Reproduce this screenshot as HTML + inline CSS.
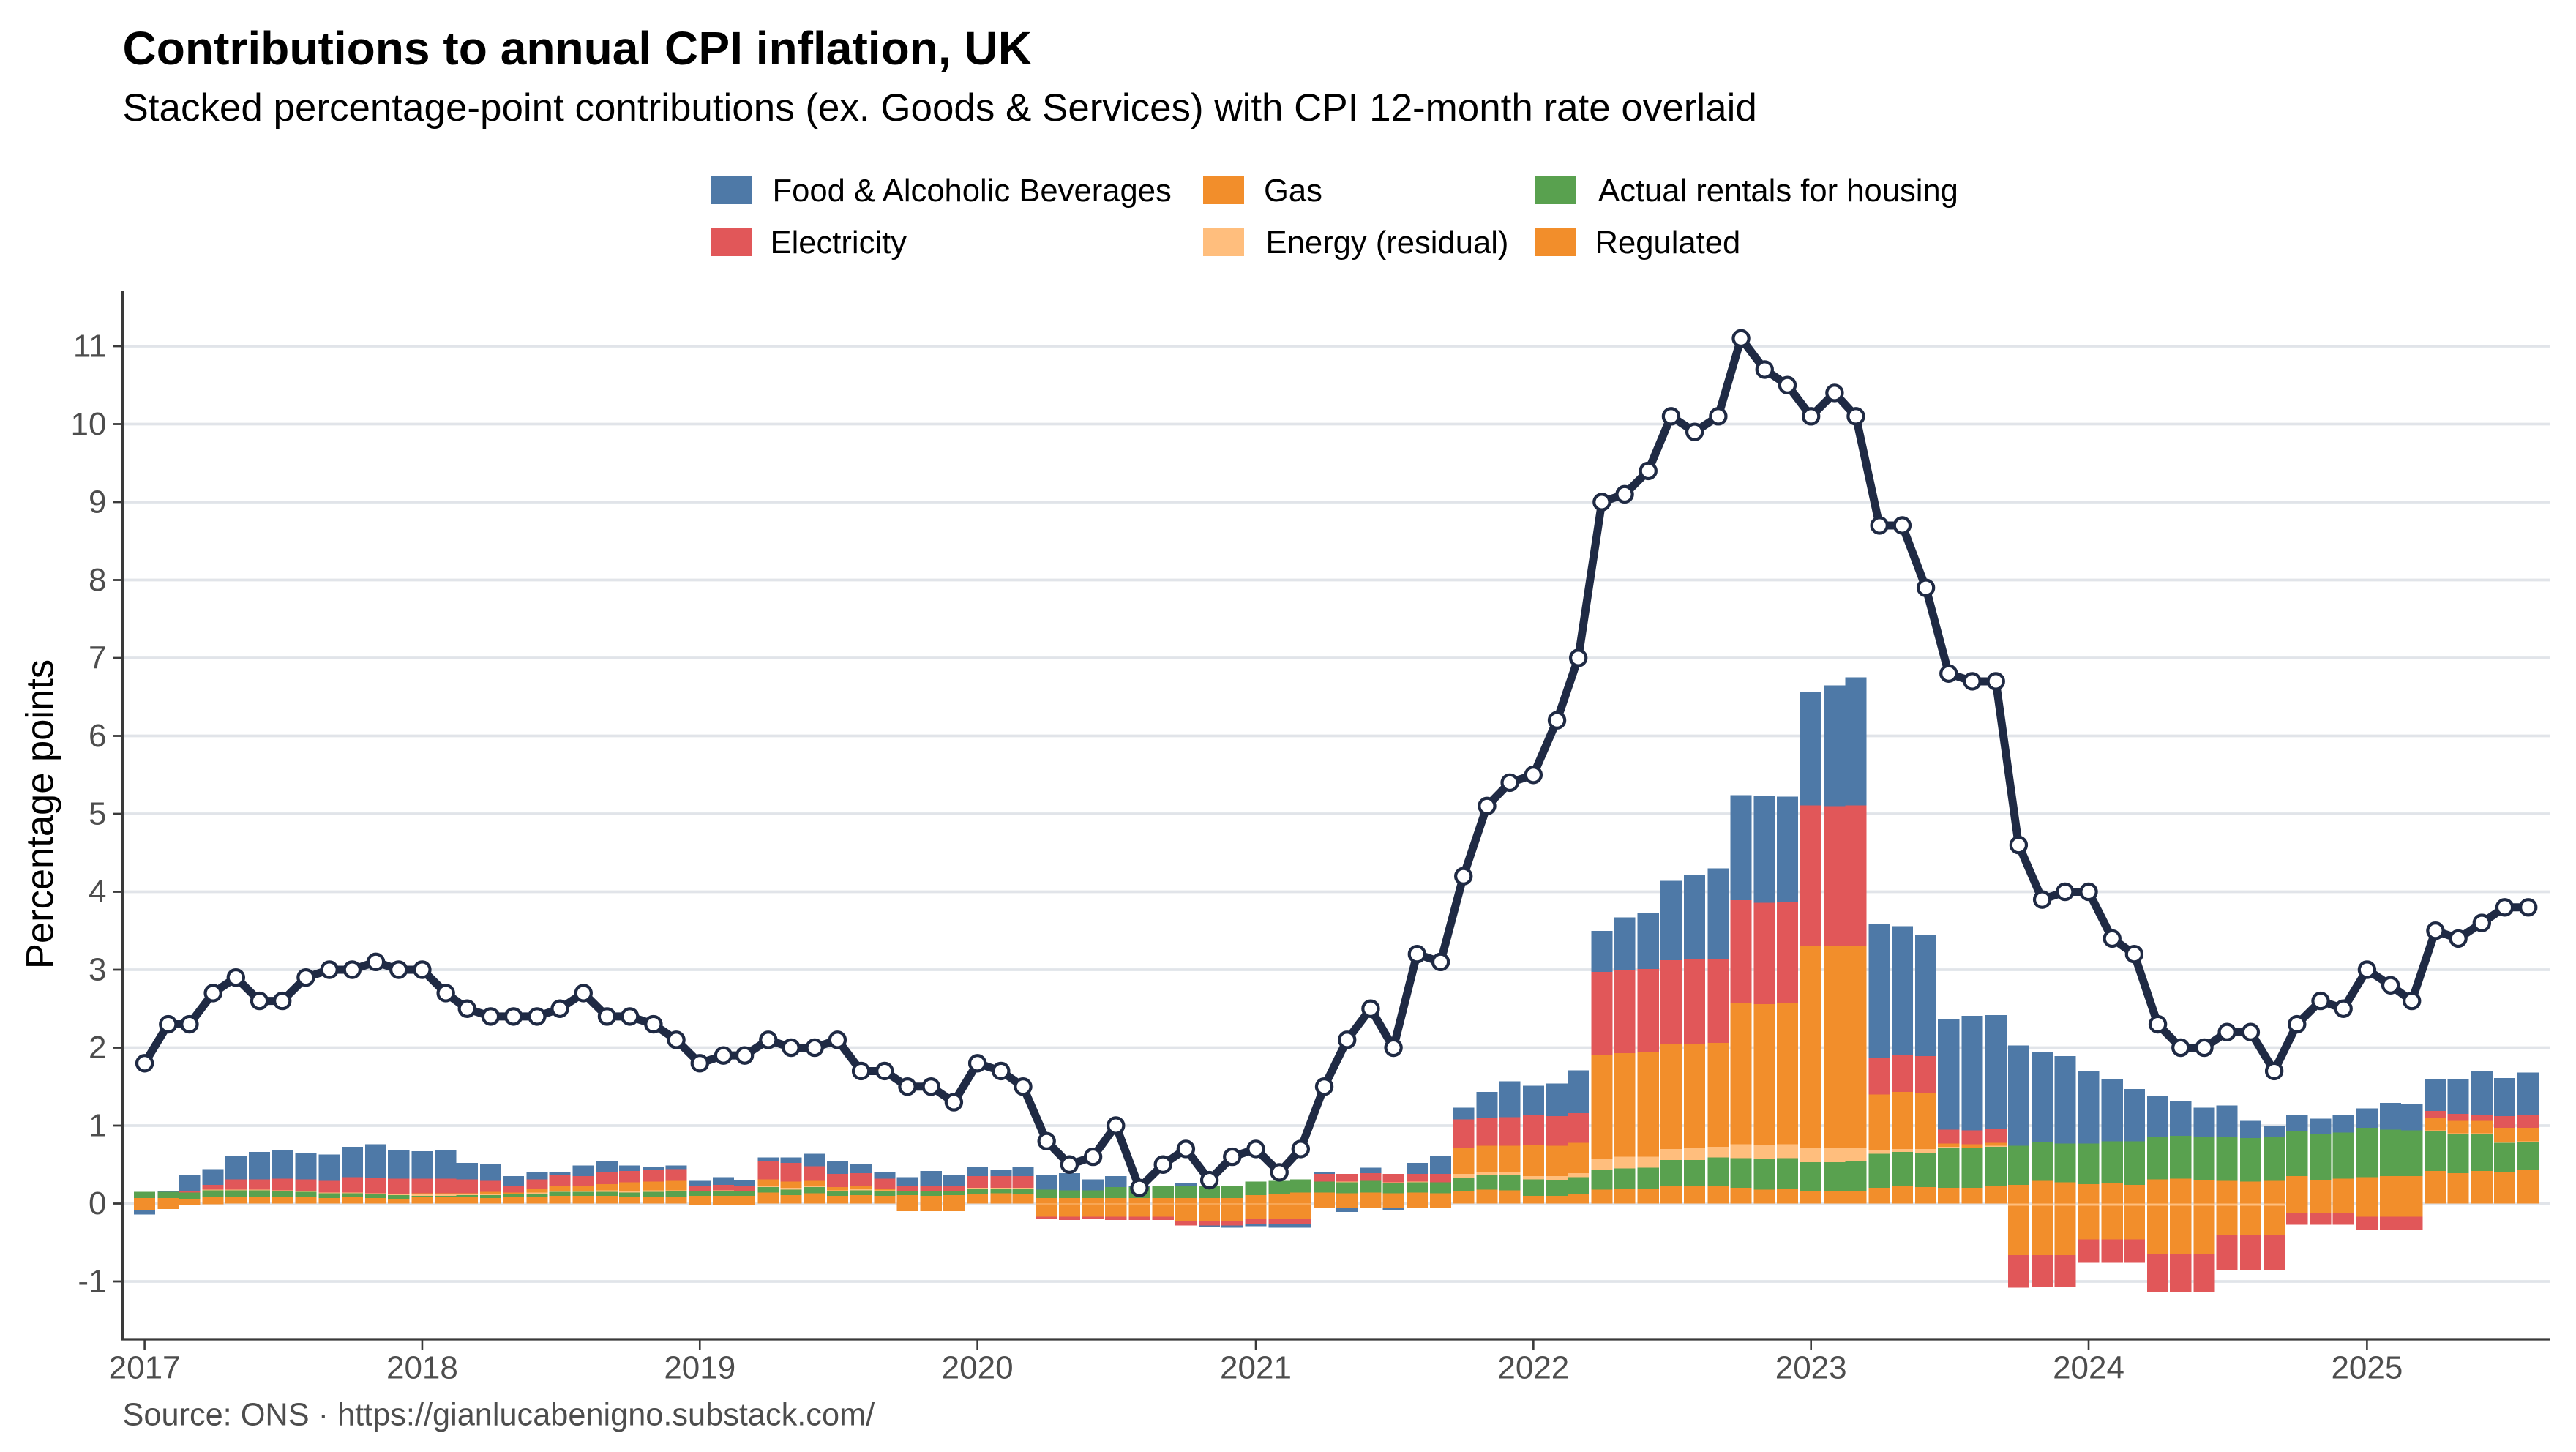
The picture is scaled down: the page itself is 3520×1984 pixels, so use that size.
<!DOCTYPE html>
<html lang="en">
<head>
<meta charset="utf-8">
<title>Contributions to annual CPI inflation, UK</title>
<style>
html,body{margin:0;padding:0;background:#fff;width:3520px;height:1984px;overflow:hidden}
svg{display:block}
text{font-family:"Liberation Sans",Arial,sans-serif}
.leg{font-size:43.6px;fill:#000}
</style>
</head>
<body>
<svg id="chart" xmlns="http://www.w3.org/2000/svg" width="3520" height="1984" viewBox="0 0 3520 1984">
  <rect x="0" y="0" width="3520" height="1984" fill="#ffffff"/>
  <text x="167.5" y="88" font-size="64.1" font-weight="700" fill="#000">Contributions to annual CPI inflation, UK</text>
  <text x="167.5" y="165" font-size="52.95" fill="#000">Stacked percentage-point contributions (ex. Goods &amp; Services) with CPI 12-month rate overlaid</text>

  <g>
    <g>
      <rect x="971" y="241" width="56" height="38" fill="#4E79A7"/>
      <text class="leg" x="1055.5" y="275">Food &amp; Alcoholic Beverages</text>
    </g>
    <g>
      <rect x="971" y="312" width="56" height="38" fill="#E15759"/>
      <text class="leg" x="1052.5" y="346">Electricity</text>
    </g>
    <g>
      <rect x="1644" y="241" width="56" height="38" fill="#F28E2B"/>
      <text class="leg" x="1727" y="275">Gas</text>
    </g>
    <g>
      <rect x="1644" y="312" width="56" height="38" fill="#FFBE7D"/>
      <text class="leg" x="1729.5" y="346">Energy (residual)</text>
    </g>
    <g>
      <rect x="2098" y="241" width="56" height="38" fill="#59A14F"/>
      <text class="leg" x="2184" y="275">Actual rentals for housing</text>
    </g>
    <g>
      <rect x="2098" y="312" width="56" height="38" fill="#F28E2B"/>
      <text class="leg" x="2179.5" y="346">Regulated</text>
    </g>
  </g>

  <text transform="translate(72.3,1112.5) rotate(-90)" text-anchor="middle" font-size="52.5" fill="#000">Percentage points</text>
  <text x="167.5" y="1947.5" font-size="43.3" fill="#4d4d4d">Source: ONS · https://gianlucabenigno.substack.com/</text>

  <g id="grid"></g>
  <g id="bars"></g>
  <g id="axes"></g>
  <g id="line"></g>
</svg>
<script>
const months = [
"2017-01","2017-02","2017-03","2017-04","2017-05","2017-06","2017-07","2017-08","2017-09","2017-10","2017-11","2017-12",
"2018-01","2018-02","2018-03","2018-04","2018-05","2018-06","2018-07","2018-08","2018-09","2018-10","2018-11","2018-12",
"2019-01","2019-02","2019-03","2019-04","2019-05","2019-06","2019-07","2019-08","2019-09","2019-10","2019-11","2019-12",
"2020-01","2020-02","2020-03","2020-04","2020-05","2020-06","2020-07","2020-08","2020-09","2020-10","2020-11","2020-12",
"2021-01","2021-02","2021-03","2021-04","2021-05","2021-06","2021-07","2021-08","2021-09","2021-10","2021-11","2021-12",
"2022-01","2022-02","2022-03","2022-04","2022-05","2022-06","2022-07","2022-08","2022-09","2022-10","2022-11","2022-12",
"2023-01","2023-02","2023-03","2023-04","2023-05","2023-06","2023-07","2023-08","2023-09","2023-10","2023-11","2023-12",
"2024-01","2024-02","2024-03","2024-04","2024-05","2024-06","2024-07","2024-08","2024-09","2024-10","2024-11","2024-12",
"2025-01","2025-02","2025-03","2025-04","2025-05","2025-06","2025-07","2025-08"];

const cpiRate = [
1.8,2.3,2.3,2.7,2.9,2.6,2.6,2.9,3.0,3.0,3.1,3.0,
3.0,2.7,2.5,2.4,2.4,2.4,2.5,2.7,2.4,2.4,2.3,2.1,
1.8,1.9,1.9,2.1,2.0,2.0,2.1,1.7,1.7,1.5,1.5,1.3,
1.8,1.7,1.5,0.8,0.5,0.6,1.0,0.2,0.5,0.7,0.3,0.6,
0.7,0.4,0.7,1.5,2.1,2.5,2.0,3.2,3.1,4.2,5.1,5.4,
5.5,6.2,7.0,9.0,9.1,9.4,10.1,9.9,10.1,11.1,10.7,10.5,
10.1,10.4,10.1,8.7,8.7,7.9,6.8,6.7,6.7,4.6,3.9,4.0,
4.0,3.4,3.2,2.3,2.0,2.0,2.2,2.2,1.7,2.3,2.6,2.5,
3.0,2.8,2.6,3.5,3.4,3.6,3.8,3.8];

const regulated = [
.07,.07,.06,.09,.09,.09,.08,.08,.07,.08,.07,.06,
.08,.08,.08,.07,.08,.09,.10,.10,.10,.09,.09,.09,
.10,.10,.10,.14,.11,.13,.10,.11,.10,.11,.10,.11,
.12,.13,.12,.07,.07,.07,.07,.07,.07,.07,.07,.07,
.11,.12,.14,.14,.13,.14,.13,.14,.13,.16,.18,.17,
.10,.10,.12,.18,.19,.19,.23,.22,.22,.20,.18,.19,
.16,.16,.16,.20,.22,.21,.20,.20,.22,.24,.29,.27,
.25,.26,.24,.31,.32,.30,.29,.28,.29,.35,.30,.32,
.34,.35,.35,.42,.39,.42,.41,.43];

const rentals = [
.08,.08,.08,.08,.08,.08,.08,.07,.06,.05,.05,.05,
.02,.02,.03,.04,.04,.03,.05,.05,.05,.05,.06,.07,
.06,.06,.06,.07,.07,.08,.06,.06,.06,.05,.06,.05,
.07,.06,.07,.11,.10,.10,.14,.14,.15,.15,.15,.15,
.17,.17,.17,.14,.14,.15,.13,.13,.14,.17,.18,.19,
.21,.20,.22,.25,.26,.27,.33,.34,.37,.38,.39,.39,
.37,.37,.38,.44,.44,.44,.52,.51,.51,.50,.50,.50,
.52,.54,.56,.54,.55,.56,.57,.56,.56,.58,.59,.59,
.63,.60,.59,.51,.50,.47,.37,.36];

const energyResidual = [
0,0,0,.01,.01,.01,.01,.01,.01,.01,.01,.01,
.02,.02,.01,.01,0,.02,.01,.01,.02,.02,.02,.01,
0,.01,0,.02,.02,.02,.01,.02,.01,0,0,0,
.01,.01,.01,-.01,-.01,-.01,-.01,-.01,-.01,-.01,-.01,-.01,
-.01,-.01,-.01,0,.01,0,.01,.01,0,.05,.05,.05,
.04,.05,.05,.14,.15,.14,.14,.15,.14,.18,.18,.18,
.18,.18,.17,.04,.04,.05,.01,.01,.01,-.03,-.03,-.03,
-.03,-.03,-.03,-.03,-.03,-.03,-.03,-.03,-.03,0,0,0,
0,0,0,.01,.01,.01,.01,.01];

const gas = [
-.08,-.07,-.02,-.01,0,0,0,0,0,0,0,0,
.01,.01,.01,.03,.02,.05,.07,.07,.08,.11,.11,.12,
-.02,-.02,-.02,.08,.08,.06,.04,.04,.02,-.10,-.10,-.10,
0,0,0,-.16,-.16,-.16,-.16,-.16,-.16,-.21,-.21,-.21,
-.19,-.19,-.19,-.05,-.05,-.05,-.05,-.05,-.05,.34,.33,.33,
.40,.39,.39,1.33,1.33,1.34,1.34,1.34,1.33,1.81,1.81,1.81,
2.59,2.59,2.59,.72,.73,.72,.04,.04,.04,-.63,-.63,-.63,
-.43,-.43,-.43,-.62,-.62,-.62,-.37,-.37,-.37,-.12,-.12,-.12,
-.17,-.17,-.17,.16,.16,.16,.18,.17];

const electricity = [
0,0,.02,.06,.13,.13,.15,.15,.15,.20,.20,.20,
.19,.19,.18,.14,.08,.12,.13,.12,.16,.15,.15,.15,
.07,.07,.07,.24,.24,.19,.17,.16,.13,.06,.06,.06,
.15,.15,.15,-.03,-.04,-.03,-.04,-.04,-.04,-.06,-.06,-.06,
-.06,-.06,-.06,.10,.10,.10,.11,.10,.11,.36,.36,.37,
.38,.38,.38,1.07,1.07,1.07,1.08,1.08,1.08,1.32,1.30,1.30,
1.81,1.80,1.81,.47,.47,.47,.18,.18,.18,-.42,-.41,-.41,
-.30,-.30,-.30,-.49,-.49,-.49,-.45,-.45,-.45,-.15,-.15,-.15,
-.17,-.17,-.17,.09,.09,.08,.15,.16];

const food = [
-.06,.01,.21,.20,.30,.35,.37,.34,.34,.39,.43,.37,
.35,.36,.21,.22,.13,.10,.05,.14,.13,.07,.04,.05,
.06,.10,.07,.04,.07,.16,.16,.12,.08,.12,.20,.14,
.12,.08,.12,.19,.22,.14,.14,.02,0,.04,-.02,-.03,
-.03,-.05,-.05,.03,-.06,.07,-.04,.14,.23,.15,.33,.46,
.38,.42,.55,.53,.67,.72,1.02,1.08,1.16,1.35,1.37,1.35,
1.46,1.55,1.64,1.71,1.66,1.56,1.41,1.47,1.46,1.29,1.15,1.12,
.93,.80,.67,.53,.44,.37,.40,.22,.14,.20,.20,.23,
.25,.34,.33,.41,.45,.56,.49,.55];

const yTickLabels = [-1,0,1,2,3,4,5,6,7,8,9,10,11];
const xTickLabels = ["2017","2018","2019","2020","2021","2022","2023","2024","2025"];

const stackSeries = [
  {name:"regulated", color:"#F28E2B", values:regulated},
  {name:"rentals", color:"#59A14F", values:rentals},
  {name:"energy-residual", color:"#FFBE7D", values:energyResidual},
  {name:"gas", color:"#F28E2B", values:gas},
  {name:"electricity", color:"#E15759", values:electricity},
  {name:"food", color:"#4E79A7", values:food}
];

const NS = "http://www.w3.org/2000/svg";
const X0 = 197.6, PX_PER_DAY = 379.6 / 365.25, Y0 = 1644.5, PX_PER_UNIT = 106.5;
const PLOT_LEFT = 167.6, PLOT_RIGHT = 3484.5, PLOT_TOP = 397, PLOT_BOTTOM = 1830;
const BAR_DAYS = 28;
const startDay = Date.UTC(2017, 0, 1) / 86400000;

function xScale(ym) {
  const parts = ym.split("-");
  const day = Date.UTC(+parts[0], +parts[1] - 1, 1) / 86400000;
  return X0 + (day - startDay) * PX_PER_DAY;
}
function yScale(v) { return Y0 - v * PX_PER_UNIT; }
function mk(tag, attrs, parent) {
  const el = document.createElementNS(NS, tag);
  for (const k in attrs) el.setAttribute(k, attrs[k]);
  parent.appendChild(el);
  return el;
}

const gGrid = document.getElementById("grid");
const gBars = document.getElementById("bars");
const gAxes = document.getElementById("axes");
const gLine = document.getElementById("line");

yTickLabels.forEach(function (t) {
  const y = yScale(t);
  const g = mk("line", {x1: PLOT_LEFT, x2: PLOT_RIGHT, y1: y, y2: y, stroke: "#e1e4e9", "stroke-width": 3.8}, gGrid);
  
  
});

const barWidth = BAR_DAYS * PX_PER_DAY;
months.forEach(function (m, i) {
  let pos = 0, neg = 0;
  const cx = xScale(m);
  stackSeries.forEach(function (s) {
    const v = s.values[i];
    if (!v) return;
    let top, h;
    if (v > 0) {
      top = yScale(pos + v);
      h = v * PX_PER_UNIT;
      pos += v;
    } else {
      top = yScale(neg);
      h = -v * PX_PER_UNIT;
      neg += v;
    }
    const r = mk("rect", {x: cx - barWidth / 2, y: top, width: barWidth, height: h, fill: s.color, "shape-rendering": "crispEdges"}, gBars);
    
    
  });
});

const axisY = mk("line", {x1: PLOT_LEFT, x2: PLOT_LEFT, y1: PLOT_TOP, y2: PLOT_BOTTOM + 1.5, stroke: "#3a3a3a", "stroke-width": 3.2}, gAxes);


const axisX = mk("line", {x1: PLOT_LEFT - 1.6, x2: PLOT_RIGHT, y1: PLOT_BOTTOM, y2: PLOT_BOTTOM, stroke: "#3a3a3a", "stroke-width": 3.2}, gAxes);



yTickLabels.forEach(function (t) {
  const y = yScale(t);
  const tk = mk("line", {x1: 155, x2: PLOT_LEFT, y1: y, y2: y, stroke: "#3a3a3a", "stroke-width": 2.8}, gAxes);
  
  
  const lb = mk("text", {x: 145.5, y: y + 14.7, "text-anchor": "end", "font-size": 44, fill: "#4d4d4d"}, gAxes);
  
  
  lb.textContent = String(t);
});

xTickLabels.forEach(function (t) {
  const x = xScale(t + "-01");
  const tk = mk("line", {x1: x, x2: x, y1: PLOT_BOTTOM, y2: 1844, stroke: "#3a3a3a", "stroke-width": 2.6}, gAxes);
  
  
  const lb = mk("text", {x: x, y: 1883.4, "text-anchor": "middle", "font-size": 44, fill: "#4d4d4d"}, gAxes);
  
  
  lb.textContent = t;
});

const pts = months.map(function (m, i) { return xScale(m).toFixed(2) + "," + yScale(cpiRate[i]).toFixed(2); });
const poly = mk("polyline", {points: pts.join(" "), fill: "none", stroke: "#1f2a44", "stroke-width": 11, "stroke-linejoin": "round", "stroke-linecap": "round"}, gLine);


months.forEach(function (m, i) {
  const c = mk("circle", {cx: xScale(m), cy: yScale(cpiRate[i]), r: 10.6, fill: "#ffffff", stroke: "#1f2a44", "stroke-width": 4.2}, gLine);
  
  
});
</script>
</body>
</html>
